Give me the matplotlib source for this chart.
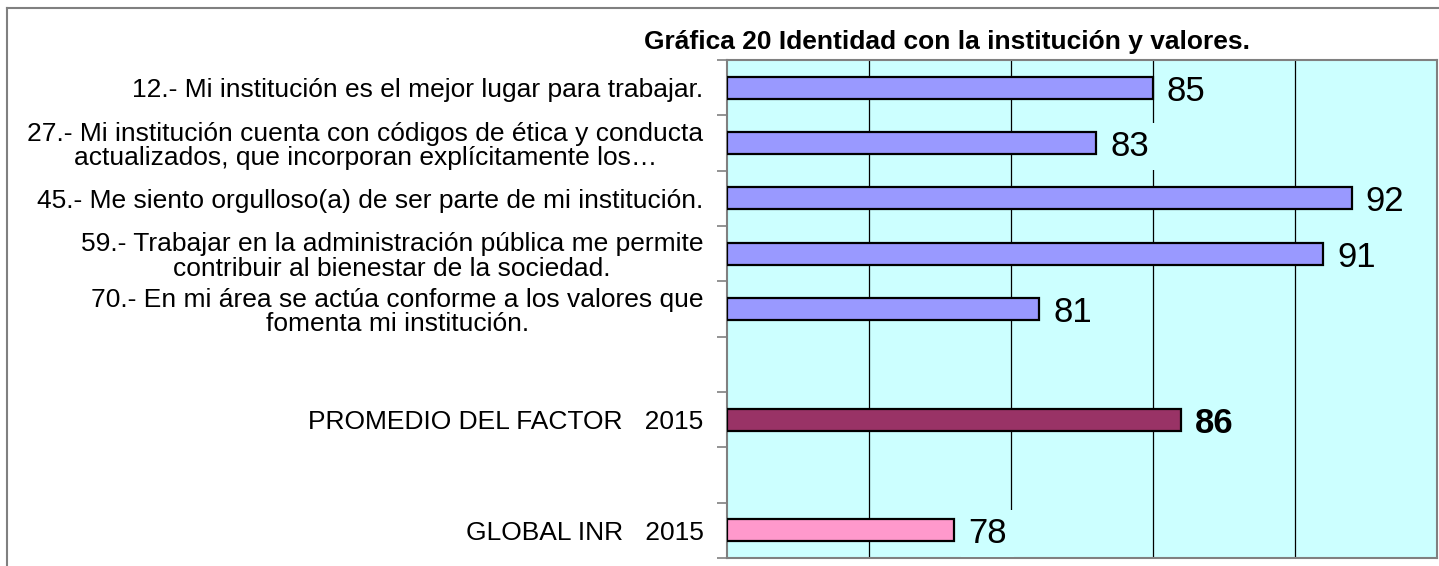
import numpy as np
import matplotlib.pyplot as plt
from matplotlib.lines import Line2D

plt.rcParams['font.family'] = ['Liberation Sans', 'DejaVu Sans']

# chart data (top to bottom, blank rows are empty slots)
labels = ['12.- Mi institución es el mejor lugar para trabajar.',
          '27.- Mi institución cuenta con códigos de ética y conducta\nactualizados, que incorporan explícitamente los…',
          '45.- Me siento orgulloso(a) de ser parte de mi institución.',
          '59.- Trabajar en la administración pública me permite\ncontribuir al bienestar de la sociedad.',
          '70.- En mi área se actúa conforme a los valores que\nfomenta mi institución.',
          '',
          'PROMEDIO DEL FACTOR   2015',
          '',
          'GLOBAL INR   2015']
values = [85, 83, 92, 91, 81, None, 86, None, 78]
colors = ['#9999FF', '#9999FF', '#9999FF', '#9999FF', '#9999FF', None, '#993366', None, '#FF99CC']
title = 'Gráfica 20 Identidad con la institución y valores.'

W, H = 1439, 566
fig = plt.figure(figsize=(W / 100, H / 100), dpi=100)
ax = fig.add_axes([727 / W, 8 / H, 710 / W, 498 / H])
ax.set_facecolor('#CCFFFF')

y = np.arange(len(labels))
for yi, v, c in zip(y, values, colors):
    if v is None:
        continue
    ax.barh(yi, v - 70, left=70, height=0.4, color=c, edgecolor='black', linewidth=1.6, zorder=3)
    bold = (yi == 6)
    ax.annotate(str(v), xy=(v, yi), xytext=(10, 0), textcoords='offset points',
                ha='left', va='center_baseline', fontsize=25,
                fontweight='bold' if bold else 'normal', zorder=4,
                bbox=dict(boxstyle='square,pad=0.2', facecolor='#CCFFFF', edgecolor='none'))

ax.set_xlim(70, 95)
ax.set_ylim(len(labels) - 0.5, -0.5)
ax.set_xticks([75, 80, 85, 90])
ax.xaxis.grid(True, color='black', linewidth=0.9, zorder=1)
ax.set_axisbelow(True)
ax.tick_params(axis='x', length=0, labelbottom=False)

ax.set_yticks(y)
ax.set_yticklabels(labels, fontsize=19, multialignment='center', linespacing=1.05)
ax.tick_params(axis='y', which='major', length=0, pad=17)
ax.set_yticks(np.arange(len(labels) + 1) - 0.5, minor=True)
ax.tick_params(axis='y', which='minor', length=7, width=1.2, color='#808080')

for s in ax.spines.values():
    s.set_color('#808080')
    s.set_linewidth(1.5)

fig.text(947 / W, 1 - 42 / H, title, ha='center', va='center', fontsize=19, fontweight='bold')

# outer chart border
fig.add_artist(Line2D([7 / W, 7 / W], [0, 1 - 8 / H], color='#808080', linewidth=1.5))
fig.add_artist(Line2D([7 / W, 1], [1 - 8 / H, 1 - 8 / H], color='#808080', linewidth=1.5))

fig.savefig('out.png', dpi=100)
